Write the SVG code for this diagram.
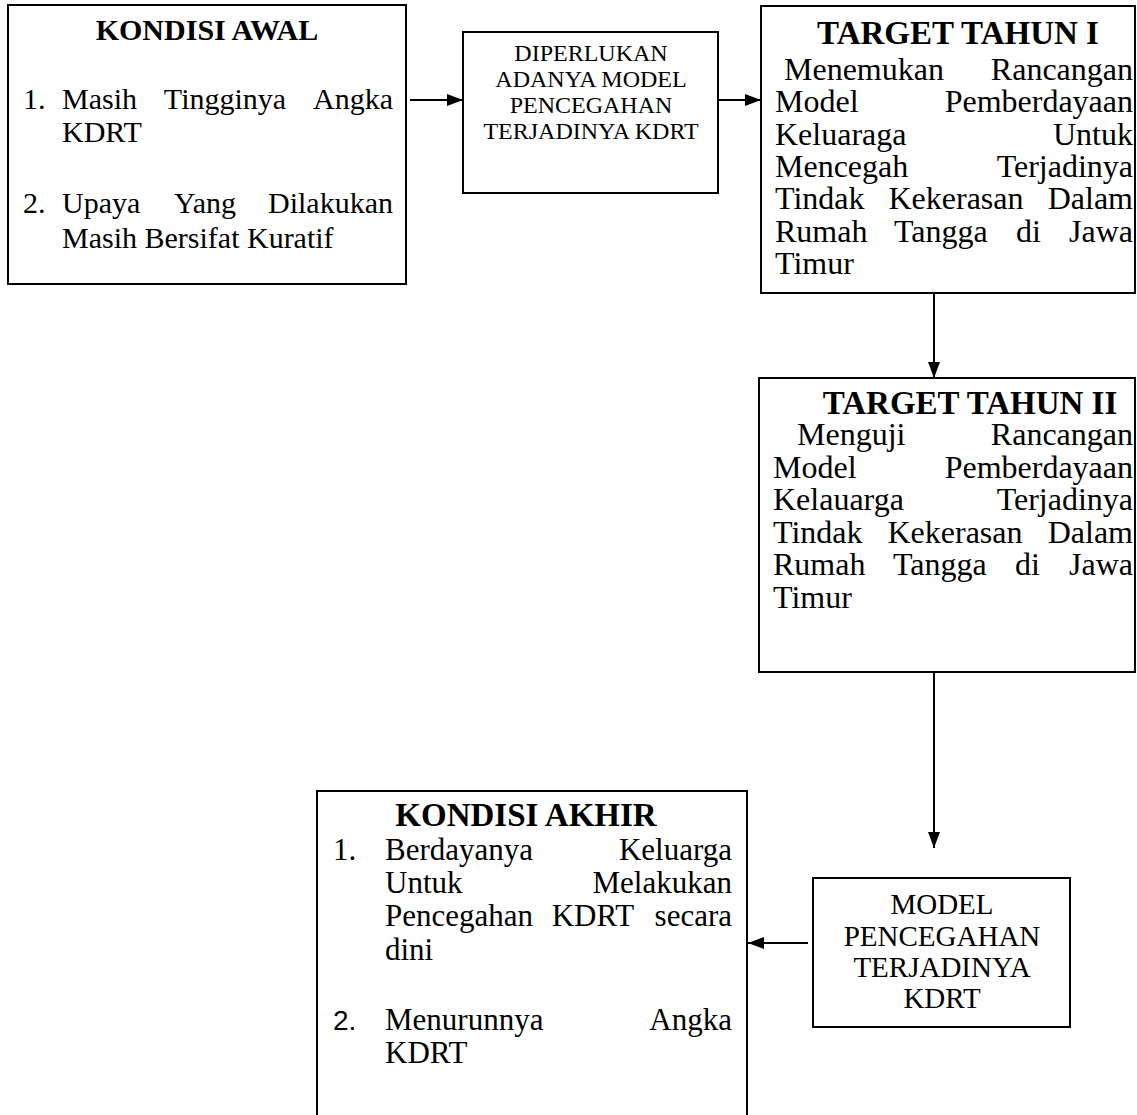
<svg xmlns="http://www.w3.org/2000/svg" width="1137" height="1115" viewBox="0 0 1137 1115">
<style>
.box{fill:#fff;stroke:#000;stroke-width:2}
text{font-family:"Liberation Serif","Times New Roman",serif;fill:#000}
.t1{font-size:30px;font-weight:bold}
.t{font-size:33px;font-weight:bold}
.b1{font-size:30px}
.b{font-size:32px}
.b5{font-size:31px}
.s2{font-size:24px}
.s6{font-size:29px}
.c{text-anchor:middle}
.e{text-anchor:end}
.conn{stroke:#000;stroke-width:2;fill:none;marker-end:url(#ah)}
</style>
<defs>
<marker id="ah" viewBox="0 0 16 12" refX="16" refY="6" markerWidth="16" markerHeight="12" markerUnits="userSpaceOnUse" orient="auto">
<path d="M0,0 L16,6 L0,12 z" fill="#000"/>
</marker>
</defs>
<rect width="1137" height="1115" fill="#fff"/>

<g id="kondisi-awal">
<rect class="box" x="8" y="5" width="398" height="279"/>
<text class="t1 c" x="207" y="40">KONDISI AWAL</text>
<text class="b1" x="23" y="109">1.</text>
<text class="b1" x="62" y="109">Masih</text>
<text class="b1 c" x="225" y="109">Tingginya</text>
<text class="b1 e" x="393" y="109">Angka</text>
<text class="b1" x="62" y="142">KDRT</text>
<text class="b1" x="23" y="213">2.</text>
<text class="b1" x="62" y="213">Upaya</text>
<text class="b1 c" x="205" y="213">Yang</text>
<text class="b1 e" x="393" y="213">Dilakukan</text>
<text class="b1" x="62" y="248">Masih Bersifat Kuratif</text>
</g>

<g id="diperlukan">
<rect class="box" x="463" y="32" width="255" height="161"/>
<text class="s2 c" x="591" y="61">DIPERLUKAN</text>
<text class="s2 c" x="591" y="87">ADANYA MODEL</text>
<text class="s2 c" x="591" y="113">PENCEGAHAN</text>
<text class="s2 c" x="591" y="139">TERJADINYA KDRT</text>
</g>

<g id="target-tahun-1">
<rect class="box" x="761" y="6" width="374" height="287"/>
<text class="t c" x="958" y="44">TARGET TAHUN I</text>
<text class="b" x="784" y="80">Menemukan</text>
<text class="b e" x="1133" y="80">Rancangan</text>
<text class="b" x="775" y="112">Model</text>
<text class="b e" x="1133" y="112">Pemberdayaan</text>
<text class="b" x="775" y="145">Keluaraga</text>
<text class="b e" x="1133" y="145">Untuk</text>
<text class="b" x="775" y="177">Mencegah</text>
<text class="b e" x="1133" y="177">Terjadinya</text>
<text class="b" x="775" y="209">Tindak</text>
<text class="b c" x="956" y="209">Kekerasan</text>
<text class="b e" x="1133" y="209">Dalam</text>
<text class="b" x="775" y="242">Rumah</text>
<text class="b" x="894" y="242">Tangga</text>
<text class="b" x="1016" y="242">di</text>
<text class="b e" x="1133" y="242">Jawa</text>
<text class="b" x="775" y="274">Timur</text>
</g>

<g id="target-tahun-2">
<rect class="box" x="759" y="378" width="376" height="294"/>
<text class="t c" x="970" y="414">TARGET TAHUN II</text>
<text class="b" x="797" y="445">Menguji</text>
<text class="b e" x="1133" y="445">Rancangan</text>
<text class="b" x="773" y="478">Model</text>
<text class="b e" x="1133" y="478">Pemberdayaan</text>
<text class="b" x="773" y="510">Kelauarga</text>
<text class="b e" x="1133" y="510">Terjadinya</text>
<text class="b" x="773" y="543">Tindak</text>
<text class="b c" x="955" y="543">Kekerasan</text>
<text class="b e" x="1133" y="543">Dalam</text>
<text class="b" x="773" y="575">Rumah</text>
<text class="b" x="893" y="575">Tangga</text>
<text class="b" x="1015" y="575">di</text>
<text class="b e" x="1133" y="575">Jawa</text>
<text class="b" x="773" y="608">Timur</text>
</g>

<g id="kondisi-akhir">
<rect class="box" x="317" y="791" width="430" height="340"/>
<text class="t c" x="526" y="826">KONDISI AKHIR</text>
<text class="b5" x="333" y="860">1.</text>
<text class="b5" x="385" y="860">Berdayanya</text>
<text class="b5 e" x="732" y="860">Keluarga</text>
<text class="b5" x="385" y="893">Untuk</text>
<text class="b5 e" x="732" y="893">Melakukan</text>
<text class="b5" x="385" y="926">Pencegahan</text>
<text class="b5 c" x="593" y="926">KDRT</text>
<text class="b5 e" x="732" y="926">secara</text>
<text class="b5" x="385" y="960">dini</text>
<text x="333" y="1030" style="font-family:'Liberation Sans',Arial,sans-serif;font-size:28px">2.</text>
<text class="b5" x="385" y="1030">Menurunnya</text>
<text class="b5 e" x="732" y="1030">Angka</text>
<text class="b5" x="385" y="1063">KDRT</text>
</g>

<g id="model-pencegahan">
<rect class="box" x="813" y="878" width="257" height="149"/>
<text class="s6 c" x="942" y="914">MODEL</text>
<text class="s6 c" x="942" y="946">PENCEGAHAN</text>
<text class="s6 c" x="942" y="977">TERJADINYA</text>
<text class="s6 c" x="942" y="1008">KDRT</text>
</g>

<g id="connectors">
<line class="conn" x1="410" y1="100" x2="463" y2="100"/>
<line class="conn" x1="718" y1="100" x2="761" y2="100"/>
<line class="conn" x1="934" y1="293" x2="934" y2="378"/>
<line class="conn" x1="934" y1="672" x2="934" y2="848"/>
<line class="conn" x1="808" y1="943" x2="748" y2="943"/>
</g>
</svg>
